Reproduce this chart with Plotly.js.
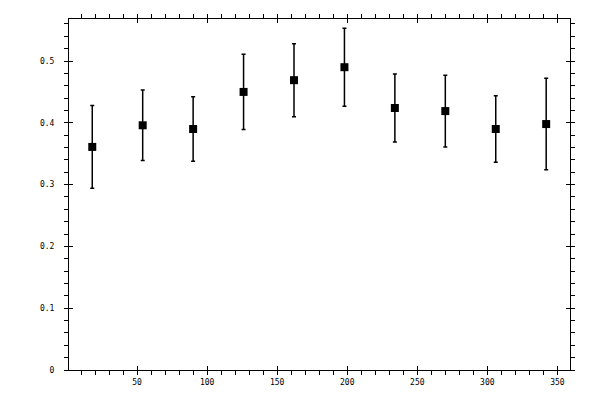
<!DOCTYPE html>
<html>
<head>
<meta charset="utf-8">
<script src="https://cdn.plot.ly/plotly-3.0.1.min.js"></script>
<style>
  html, body { margin: 0; padding: 0; background: #fff; }
  #chart { width: 600px; height: 400px; }
</style>
</head>
<body>
<div id="chart"></div>
<script>
// bin centres (degrees) and measured values with their errors
const angles = [18, 54, 90, 126, 162, 198, 234, 270, 306, 342];
const values = [0.361, 0.396, 0.390, 0.450, 0.469, 0.490, 0.424, 0.419, 0.390, 0.398];
const errors = [0.067, 0.057, 0.052, 0.061, 0.059, 0.063, 0.055, 0.058, 0.054, 0.074];

const tickFont = { family: 'DejaVu Sans Mono, monospace', size: 8, color: '#000' };

function axis(extra) {
  return Object.assign({
    showline: true,
    linecolor: '#000',
    linewidth: 1,
    mirror: 'allticks',
    ticks: 'outside',
    ticklen: 4,
    tickwidth: 1,
    tickcolor: '#000',
    showgrid: false,
    zeroline: false,
    tickfont: tickFont,
  }, extra);
}

// second pair of axes only adds the inner half of the major ticks
function innerAxis(extra) {
  return Object.assign({
    showline: false,
    ticks: 'inside',
    ticklen: 4,
    tickwidth: 1,
    tickcolor: '#000',
    mirror: 'allticks',
    showgrid: false,
    zeroline: false,
    showticklabels: false,
  }, extra);
}

const points = {
  type: 'scatter',
  mode: 'markers',
  x: angles,
  y: values,
  marker: { symbol: 'square', size: 8, color: '#000' },
  error_y: { type: 'data', array: errors, visible: true, color: '#000', thickness: 1.5, width: 2 },
  showlegend: false,
};

const dummy = { type: 'scatter', x: [], y: [], xaxis: 'x2', yaxis: 'y2', showlegend: false };

const xRange = [1.4, 359];
const yRange = [0, 0.568];

const layout = {
  width: 600,
  height: 400,
  paper_bgcolor: '#fff',
  plot_bgcolor: '#fff',
  margin: { l: 69, r: 30, t: 19, b: 30 },
  showlegend: false,
  xaxis: axis({
    range: xRange, tick0: 0, dtick: 50,
    minor: { dtick: 10, ticks: 'outside', ticklen: 4, tickcolor: '#000', tickwidth: 1, showgrid: false },
  }),
  yaxis: axis({
    range: yRange, tick0: 0, dtick: 0.1, ticklabelstandoff: 8,
    minor: { dtick: 0.02, ticks: 'outside', ticklen: 4, tickcolor: '#000', tickwidth: 1, showgrid: false },
  }),
  xaxis2: innerAxis({ range: xRange, tick0: 0, dtick: 50, overlaying: 'x', anchor: 'y2' }),
  yaxis2: innerAxis({ range: yRange, tick0: 0, dtick: 0.1, overlaying: 'y', anchor: 'x2' }),
};

Plotly.newPlot('chart', [points, dummy], layout, { displayModeBar: false, staticPlot: true });
</script>
</body>
</html>
